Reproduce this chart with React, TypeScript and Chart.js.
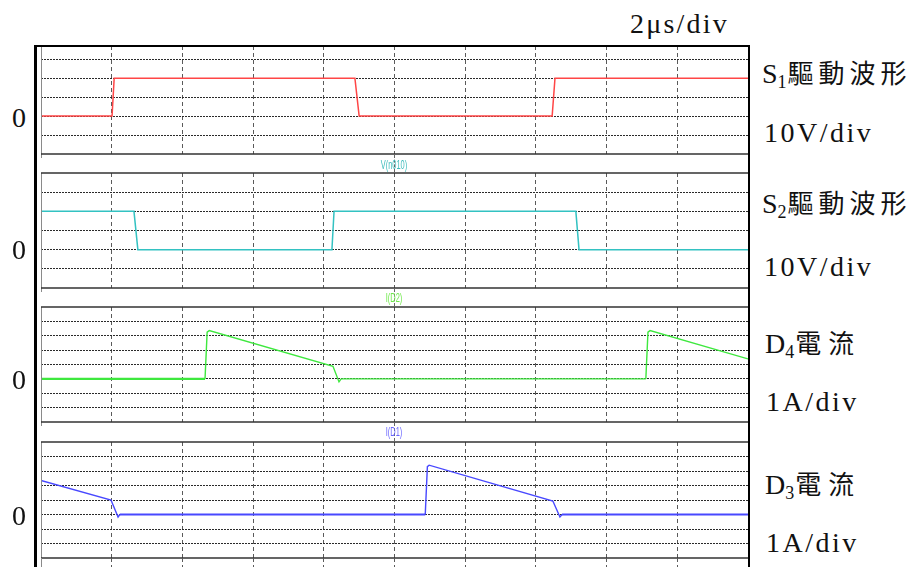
import React, { useEffect, useRef } from "react";
import { Chart, registerables } from "chart.js";

Chart.register(...registerables);

// ---- data (time in μs, 2 μs/div) ----
const timeMin = 0;
const timeMax = 20;
const timeStep = 2;

// S1 gate drive (V)
const s1Time = [0, 2.01, 2.07, 8.88, 9.0, 14.46, 14.54, 20];
const s1Volt = [0, 0, 20, 20, 0, 0, 20, 20];

// S2 gate drive (V)
const s2Time = [0, 2.63, 2.74, 8.23, 8.29, 15.13, 15.22, 20];
const s2Volt = [20, 20, 0, 0, 20, 20, 0, 0];

// D4 current (A)
const d4Time = [0, 4.64, 4.7, 4.76, 8.26, 8.43, 8.49, 11.23, 17.11, 17.17, 17.23, 20];
const d4Amp = [0, 0, 3.25, 3.36, 0.87, -0.21, 0, 0, 0, 3.25, 3.36, 1.39];

// D3 current (A)
const d3Time = [0, 1.98, 2.18, 2.23, 10.87, 10.93, 10.98, 14.48, 14.68, 14.74, 20];
const d3Amp = [2.35, 1.0, -0.17, 0, 0, 3.3, 3.4, 0.93, -0.17, 0, 0];

// ---- layout ----
const LEFT = 41;
const RIGHT = 748;
const PAD = 4;
const SERIF = "'Liberation Serif', 'Times New Roman', serif";
const CJK = "'Noto Sans CJK TC', 'Noto Sans CJK SC', sans-serif";
const SANS = "'Liberation Sans', Arial, sans-serif";

type PanelCfg = {
  top: number;
  bottom: number;
  min: number;
  max: number;
  step: number;
  time: number[];
  values: number[];
  color: string;
  hGrid: boolean;
  frame: boolean;
  thickZero: boolean;
  thinFrom?: number;
  thinTo?: number;
};

const panels: PanelCfg[] = [
  { top: 46, bottom: 154, min: -20, max: 37, step: 10, time: s1Time, values: s1Volt, color: "#ff4646", hGrid: true, frame: true, thickZero: false },
  { top: 173, bottom: 288, min: -20, max: 40, step: 10, time: s2Time, values: s2Volt, color: "#33c2c2", hGrid: true, frame: true, thickZero: false },
  { top: 307, bottom: 422, min: -3, max: 5, step: 1, time: d4Time, values: d4Amp, color: "#3ee83e", hGrid: true, frame: true, thickZero: true, thinFrom: 8.4, thinTo: 11.3 },
  { top: 442, bottom: 558, min: -3, max: 5, step: 1, time: d3Time, values: d3Amp, color: "#4848ff", hGrid: true, frame: true, thickZero: true },
  { top: 558, bottom: 640, min: 0, max: 1, step: 1, time: [], values: [], color: "#000", hGrid: false, frame: false, thickZero: false },
];

function interiorTicks(step: number) {
  return (axis: any) => {
    const lo = axis.min;
    const hi = axis.max;
    axis.ticks = axis.ticks.filter((t: any) => {
      const r = t.value / step;
      return t.value > lo + 1e-9 && t.value < hi - 1e-9 && Math.abs(r - Math.round(r)) < 1e-6;
    });
  };
}

function Panel({ cfg }: { cfg: PanelCfg }) {
  const ref = useRef<HTMLCanvasElement>(null);
  const w = RIGHT - LEFT + PAD * 2;
  const h = cfg.bottom - cfg.top + PAD * 2;

  useEffect(() => {
    if (!ref.current) return;
    const framePlugin = {
      id: "frame",
      afterDraw(chart: any) {
        const { ctx, chartArea: a } = chart;
        ctx.save();
        ctx.strokeStyle = "#8a8a8a";
        ctx.lineWidth = 1;
        ctx.beginPath();
        ctx.moveTo(Math.round(a.left) + 0.5, a.top);
        ctx.lineTo(Math.round(a.left) + 0.5, a.bottom + PAD);
        ctx.stroke();
        if (cfg.frame) {
          ctx.strokeStyle = "#333";
          ctx.lineWidth = 1.6;
          ctx.beginPath();
          ctx.moveTo(a.left, a.top);
          ctx.lineTo(a.right, a.top);
          ctx.moveTo(a.left, a.bottom);
          ctx.lineTo(a.right, a.bottom);
          ctx.stroke();
        }
        ctx.restore();
      },
    };
    const segWidth = (c: any) => {
      if (!cfg.thickZero) return 1.5;
      const y0 = c.p0.parsed.y;
      const y1 = c.p1.parsed.y;
      const x0 = c.p0.parsed.x;
      if (y0 === 0 && y1 === 0) {
        if (cfg.thinFrom !== undefined && x0 >= cfg.thinFrom && x0 < (cfg.thinTo as number)) return 1.3;
        return 2.2;
      }
      return 1.4;
    };
    const chart = new Chart(ref.current, {
      type: "line",
      data: {
        datasets: [
          {
            data: cfg.time.map((t, i) => ({ x: t, y: cfg.values[i] })),
            borderColor: cfg.color,
            borderWidth: 1.5,
            pointRadius: 0,
            tension: 0,
            fill: false,
            segment: { borderWidth: segWidth },
          },
        ],
      },
      options: {
        animation: false,
        responsive: false,
        maintainAspectRatio: false,
        events: [],
        layout: { padding: PAD },
        plugins: { legend: { display: false }, tooltip: { enabled: false } },
        scales: {
          x: {
            type: "linear",
            min: timeMin,
            max: timeMax,
            ticks: { display: false, stepSize: timeStep },
            grid: { color: "#5a5a5a", lineWidth: 1, drawTicks: false },
            border: { display: false, dash: [4, 3] },
            afterBuildTicks: interiorTicks(timeStep),
          },
          y: {
            type: "linear",
            min: cfg.min,
            max: cfg.max,
            ticks: { display: false, stepSize: cfg.step },
            grid: { display: cfg.hGrid, color: "#2a2a2a", lineWidth: 1, drawTicks: false },
            border: { display: false, dash: [2, 1] },
            afterBuildTicks: interiorTicks(cfg.step),
          },
        },
      } as any,
      plugins: [framePlugin],
    });
    return () => chart.destroy();
  }, []);

  return (
    <canvas
      ref={ref}
      width={w}
      height={h}
      style={{ position: "absolute", left: LEFT - PAD, top: cfg.top - PAD, width: w, height: h }}
    />
  );
}

function Txt({ x, base, size = 28, children, style }: any) {
  return (
    <div
      style={{
        position: "absolute",
        left: x,
        top: base - size * 0.8375,
        fontSize: size,
        lineHeight: 1,
        fontFamily: SERIF,
        whiteSpace: "nowrap",
        color: "#111",
        ...style,
      }}
    >
      {children}
    </div>
  );
}

function Sub({ children }: any) {
  return <span style={{ fontSize: 18, position: "relative", top: 5 }}>{children}</span>;
}

function StripLabel({ top, color, text }: any) {
  return (
    <div
      style={{
        position: "absolute",
        left: 394,
        top,
        fontSize: 12,
        lineHeight: 1,
        fontFamily: SANS,
        color,
        whiteSpace: "nowrap",
        transform: "translateX(-50%) scaleX(0.62)",
      }}
    >
      {text}
    </div>
  );
}

const strips = [
  { top: 155, height: 17 },
  { top: 289, height: 17 },
  { top: 423, height: 18 },
];

export default function App() {
  return (
    <div
      style={{
        position: "fixed",
        left: 0,
        top: 0,
        width: 918,
        height: 567,
        overflow: "hidden",
        background: "#fff",
      }}
    >
      {panels.map((p, i) => (
        <Panel key={i} cfg={p} />
      ))}
      {strips.map((s, i) => (
        <div
          key={i}
          style={{
            position: "absolute",
            left: 394,
            top: s.top,
            width: 0,
            height: s.height,
            borderLeft: "1px dashed #666",
          }}
        />
      ))}
      <StripLabel top={159} color="#3fbcbc" text="V(n010)" />
      <StripLabel top={292} color="#6ee84a" text="I(D2)" />
      <StripLabel top={426} color="#6a66ff" text="I(D1)" />

      {/* outer frame */}
      <div
        style={{
          position: "absolute",
          left: 34,
          top: 45,
          width: 716,
          height: 600,
          boxSizing: "border-box",
          borderLeft: "3px solid #000",
          borderTop: "2px solid #000",
          borderRight: "2px solid #000",
          pointerEvents: "none",
        }}
      />

      <Txt x={630} base={33} style={{ letterSpacing: 2.2 }}>2μs/div</Txt>

      <Txt x={762} base={82}>
        S<Sub>1</Sub>
        <span style={{ fontFamily: CJK, fontSize: 26, letterSpacing: 5, marginLeft: 1 }}>驅動波形</span>
      </Txt>
      <Txt x={764} base={142} style={{ letterSpacing: 2.5 }}>10V/div</Txt>

      <Txt x={762} base={212}>
        S<Sub>2</Sub>
        <span style={{ fontFamily: CJK, fontSize: 26, letterSpacing: 5, marginLeft: 1 }}>驅動波形</span>
      </Txt>
      <Txt x={764} base={276} style={{ letterSpacing: 2.5 }}>10V/div</Txt>

      <Txt x={765} base={352}>
        D<Sub>4</Sub>
        <span style={{ fontFamily: CJK, fontSize: 26, letterSpacing: 7, marginLeft: 1 }}>電流</span>
      </Txt>
      <Txt x={766} base={411} style={{ letterSpacing: 2.5 }}>1A/div</Txt>

      <Txt x={765} base={493}>
        D<Sub>3</Sub>
        <span style={{ fontFamily: CJK, fontSize: 26, letterSpacing: 7, marginLeft: 1 }}>電流</span>
      </Txt>
      <Txt x={766} base={552} style={{ letterSpacing: 2.5 }}>1A/div</Txt>

      <Txt x={12} base={127}>0</Txt>
      <Txt x={12} base={259}>0</Txt>
      <Txt x={12} base={389}>0</Txt>
      <Txt x={12} base={525}>0</Txt>
    </div>
  );
}
